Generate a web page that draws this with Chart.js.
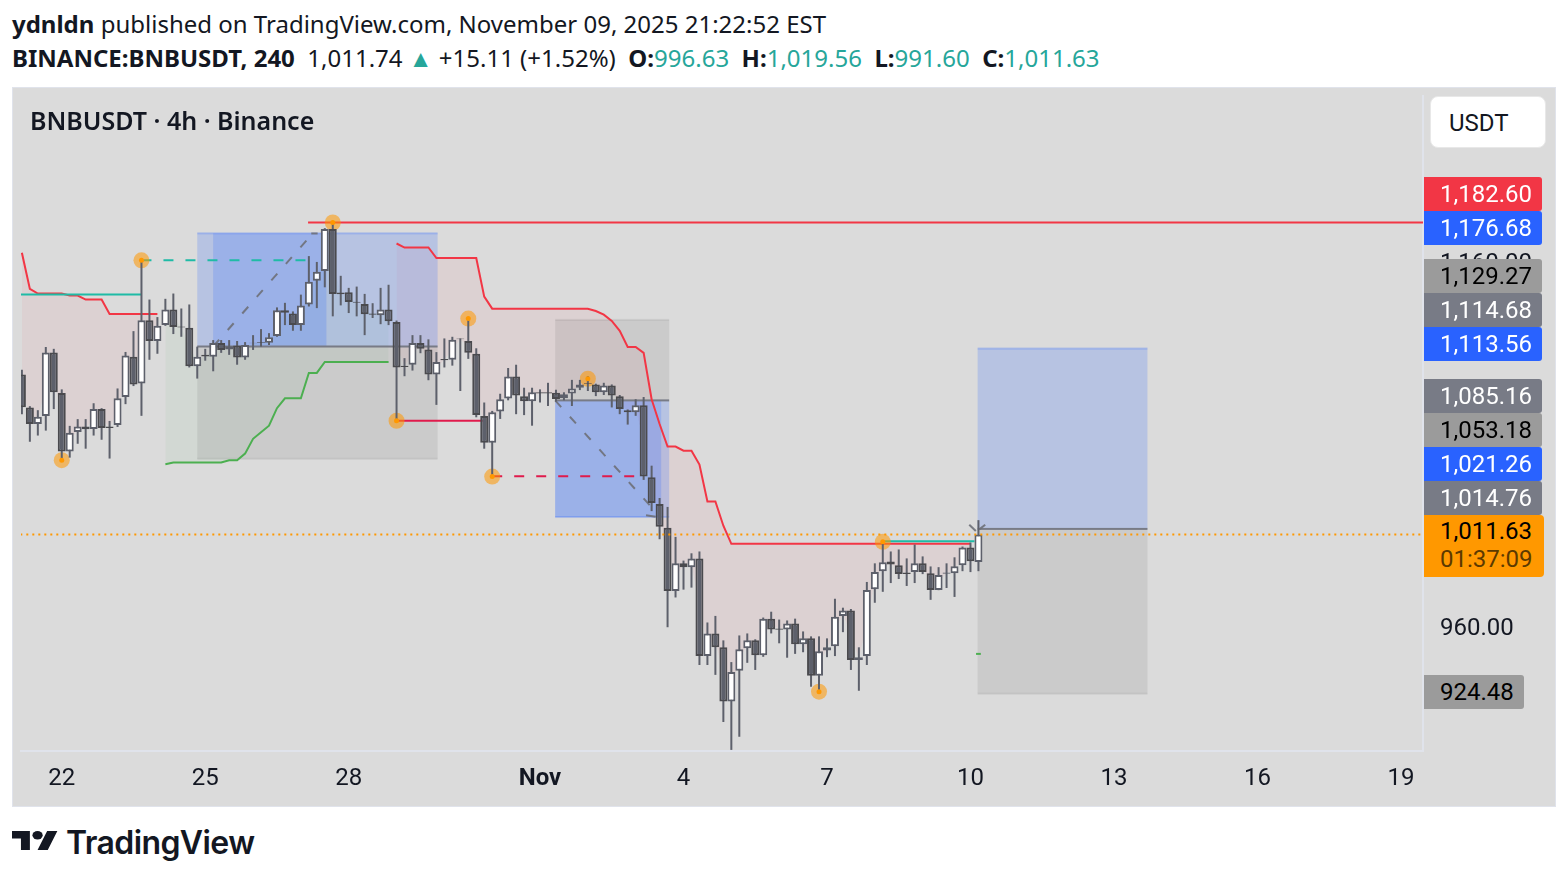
<!DOCTYPE html>
<html lang="en">
<head>
<meta charset="UTF-8">
<title>BNBUSDT 4h</title>
<script src="https://cdn.jsdelivr.net/npm/chart.js@4"></script>
<style>
    html, body { margin: 0; padding: 0; background: #fff; width: 1568px; height: 880px; overflow: hidden; }
    .head { position: absolute; left: 12px; font-family: "Noto Sans", sans-serif; font-size: 24px; color: #131722; white-space: nowrap; line-height: 34px; }
    .head b { font-weight: 700; }
    .head .up { color: #26a69a; }
    #line1 { top: 7px; }
    #line2 { top: 41px; }
    #pane { position: absolute; left: 12px; top: 87px; width: 1542px; height: 718px; border: 1px solid #e0e3eb; background: #dbdbdb; }
    #chart { position: absolute; left: 0; top: 0; }
    #title { position: absolute; left: 17px; top: 15px; font-family: "Noto Sans", sans-serif; font-weight: 600; font-size: 25px; line-height: 34px; color: #131722; }
    #unit { position: absolute; left: 1417px; top: 8px; width: 116px; height: 52px; box-sizing: border-box; background: #fff; border: 1px solid #e8e8e8; border-radius: 8px; font: 24px/52px Roboto, sans-serif; color: #131722; padding-left: 18px; }
    .tag { position: absolute; left: 1411px; width: 118px; height: 34px; border-radius: 0 3px 3px 0; font: 24px/34px Roboto, sans-serif; box-sizing: border-box; padding-left: 16px; }
    #brand { position: absolute; left: 66px; top: 823px; font-family: Inter, sans-serif; font-weight: 600; font-size: 32px; line-height: 40px; letter-spacing: -0.6px; color: #131722; }
    #logo { position: absolute; left: 12px; top: 831px; }
</style>
</head>
<body>
<div class="head" id="line1"><b>ydnldn</b> published on TradingView.com, November 09, 2025 21:22:52 EST</div>
<div class="head" id="line2"><b>BINANCE:BNBUSDT, 240</b>&nbsp; 1,011.74 <span class="up">▲</span> +15.11 (+1.52%)&nbsp; <b>O:</b><span class="up">996.63</span>&nbsp; <b>H:</b><span class="up">1,019.56</span>&nbsp; <b>L:</b><span class="up">991.60</span>&nbsp; <b>C:</b><span class="up">1,011.63</span></div>
<div id="pane">
    <canvas id="chart" width="1542" height="718"></canvas>
    <div id="title">BNBUSDT · 4h · Binance</div>
    <div id="unit">USDT</div>
</div>
<svg id="logo" width="46" height="19" viewBox="0 4 36 18" preserveAspectRatio="none"><path fill="#131722" d="M14 22H7V11H0V4h14v18zM28 22h-8l7.5-18h8L28 22z"/><circle fill="#131722" cx="20" cy="8" r="4"/></svg>
<div id="brand">TradingView</div>

<script>
    const opens = [1099.3,1081.3,1072.2,1076.6,1111.4,1089.2,1057.1,1067.9,1070.8,1069.5,1080.4,1070.8,1071.7,1087.0,1109.0,1094.4,1129.1,1117.7,1126.4,1135.0,
        1125.6,1124.9,1103.8,1110.1,1109.0,1116.6,1113.0,1115.2,1108.7,1116.8,1117.0,1116.8,1120.4,1134.5,1132.8,1126.4,1137.7,1150.7,1156.1,1179.0,
        1144.2,1144.4,1139.2,1137.9,1132.8,1131.8,1135.0,1128.1,1104.2,1104.7,1116.6,1113.0,1099.3,1107.8,1107.4,1119.1,1117.7,1110.7,1076.6,1062.0,
        1079.1,1086.2,1098.2,1087.4,1084.7,1089.6,1089.6,1089.4,1086.3,1088.9,1092.1,1094.6,1093.9,1089.6,1093.3,1087.4,1079.8,1078.7,1082.5,1043.0,
        1028.4,1015.4,980.8,995.9,993.8,998.6,945.1,957.5,950.0,920.2,937.0,949.4,953.7,945.6,965.6,960.2,959.7,962.9,951.6,954.8,
        934.3,948.2,950.5,967.1,970.0,942.9,945.1,981.7,991.6,996.9,994.9,990.9,991.1,995.9,990.5,981.3,990.2,990.5,994.9,1004.6,996.63];
    const highs = [1102.0,1082.0,1079.8,1114.4,1113.4,1091.2,1071.2,1074.9,1074.9,1083.6,1080.9,1073.9,1091.7,1111.7,1123.1,1161.9,1140.4,1130.8,1140.8,1143.7,
        1135.5,1137.7,1114.6,1113.4,1118.2,1118.2,1118.2,1117.7,1117.1,1120.9,1124.2,1122.0,1136.1,1138.6,1133.9,1143.1,1164.2,1161.0,1179.5,1182.6,
        1153.4,1146.8,1147.5,1143.5,1138.4,1146.8,1148.5,1128.9,1108.3,1120.9,1120.9,1118.6,1111.6,1119.1,1120.0,1119.1,1130.0,1113.7,1084.0,1079.4,
        1088.8,1102.9,1104.7,1092.1,1092.1,1091.2,1094.8,1091.0,1089.6,1096.4,1096.4,1098.4,1094.3,1094.8,1093.9,1088.1,1080.2,1085.8,1087.0,1049.4,
        1031.7,1026.8,1010.4,997.4,1001.4,1002.4,963.5,967.1,953.7,941.8,956.4,957.5,954.3,966.2,969.4,965.1,964.6,965.6,958.6,955.9,
        955.9,954.8,976.5,971.6,970.9,949.9,985.7,995.9,1007.7,1002.4,1003.5,998.6,1006.2,999.7,994.2,993.8,995.9,999.2,1005.1,1007.3,1019.56];
    const lows = [1077.6,1062.5,1065.9,1068.6,1080.4,1052.4,1053.8,1061.4,1058.7,1065.9,1063.6,1053.3,1070.6,1083.1,1093.0,1076.7,1107.4,1110.7,1126.0,1121.5,
        1120.0,1103.2,1097.1,1106.9,1101.1,1111.2,1110.1,1104.7,1107.4,1112.8,1114.6,1115.5,1120.0,1126.4,1123.3,1123.3,1136.6,1135.7,1147.1,1131.2,
        1137.2,1133.0,1131.2,1120.9,1130.3,1126.9,1126.4,1074.0,1098.4,1101.5,1111.0,1096.2,1082.7,1103.2,1104.2,1090.3,1107.9,1075.9,1058.7,1043.4,
        1075.0,1085.2,1077.6,1077.1,1071.3,1084.0,1082.1,1084.5,1085.2,1082.1,1090.8,1090.3,1087.5,1088.1,1081.3,1077.6,1071.9,1076.7,1041.6,1024.5,
        1009.1,960.9,977.2,981.5,982.6,940.2,940.2,934.8,909.0,893.7,900.9,941.4,937.5,944.7,957.5,952.1,944.2,946.3,947.2,928.3,
        925.6,944.5,945.1,958.2,937.5,926.1,940.2,974.3,980.3,985.1,987.3,983.5,985.1,990.0,975.9,981.2,982.4,977.5,991.6,991.1,991.60];
    const closes = [1081.4,1072.2,1076.2,1111.4,1089.6,1057.1,1067.5,1070.8,1069.4,1080.4,1070.1,1070.1,1086.3,1109.7,1093.9,1129.1,1117.7,1126.0,1135.0,1125.4,
        1125.1,1103.8,1109.0,1109.2,1116.6,1112.8,1114.8,1108.7,1115.5,1116.4,1116.6,1119.7,1134.5,1133.2,1126.4,1137.2,1150.2,1155.6,1179.0,1143.5,
        1143.3,1139.0,1138.6,1132.3,1132.1,1135.0,1128.5,1103.2,1103.5,1116.6,1113.4,1099.3,1106.2,1107.2,1118.4,1118.6,1111.2,1077.1,1062.0,1078.7,
        1085.8,1098.2,1087.9,1084.7,1089.6,1089.0,1089.0,1085.9,1088.5,1091.7,1093.9,1094.1,1089.6,1093.3,1087.9,1080.4,1078.7,1082.5,1043.4,1028.9,
        1016.0,980.8,995.9,993.8,998.6,945.1,957.5,950.0,920.2,936.4,948.9,953.7,945.6,965.6,959.7,959.5,962.9,951.6,954.8,934.3,
        947.8,949.9,966.7,970.1,942.9,944.5,981.3,991.1,996.5,995.2,990.0,990.0,995.9,991.1,981.3,989.5,990.9,994.3,1004.6,997.0,1011.63];

    // trend stop lines, first value sits on the bar named in the *Start const
    const upperAStart = 0;
    const upperA = [1166.0,1146.2,1143.7,1143.7,1143.7,1143.7,1142.6,1142.6,1140.4,1140.4,1140.4,1132.5,1132.5,1132.5,1132.5,1132.5,1132.5,1132.5];
    const lowerStart = 18;
    const lower = [1050.2,1051.1,1051.1,1051.1,1051.1,1051.1,1051.1,1051.1,1052.4,1052.4,1056.0,1064.1,1067.7,1071.3,1080.9,1086.3,1086.3,1086.3,1100.2,1100.2,1106.2,1106.2,1106.2,1106.2,1106.2,1106.2,1106.2,1106.2,1106.2];
    const upperBStart = 47;
    const upperB = [1171.1,1168.9,1168.9,1168.9,1168.9,1163.1,1163.1,1163.1,1163.1,1163.1,1163.1,1142.0,
        1135.4,1135.4,1135.4,1135.4,1135.4,1135.4,1135.4,1135.4,1135.4,1135.4,1135.4,1135.4,1135.4,
        1134.1,1132.1,1128.7,1123.3,1114.4,1114.4,1111.2,1085.8,1072.2,1059.9,1059.9,1057.6,1057.6,1050.0,1029.8,1029.8,1016.5,
        1006.6,1006.6,1006.6,1006.6,1006.6,1006.6,1006.6,1006.6,1006.6,1006.6,1006.6,1006.6,1006.6,1006.6,1006.6,1006.6,1006.6,1006.6,1006.6,1006.6,1006.6,1006.6,1006.6,1006.6,1006.6,1006.6,1006.6,1006.6,1006.6,1006.6,1006.6];
    const lastLower = 946.3;

    // position boxes
    const boxFrom = [22, 66.9, 119.9];
    const boxTo = [52.15, 81.2, 141.2];
    const boxTarget = [1176.68, 1021.26, 1113.56];
    const boxEntry = [1114.68, 1085.16, 1014.76];
    const boxStop = [1053.18, 1129.27, 924.48];
    const hitFrom = [24, 66.9];
    const hitTo = [38.2, 80.2];
    const hitBox = [0, 1];

    // horizontal levels
    const levelFrom = [35.9, -0.2, 15, 47, 59, 108];
    const levelTo = [176, 15, 35.6, 58, 76.9, 119.5];
    const levelPrice = [1182.6, 1143.1, 1161.9, 1074.0, 1043.6, 1008.0];
    const levelColor = ['#f23645', '#1fbba6', '#1fbba6', '#e01b4c', '#e01b4c', '#1fbba6'];
    const levelDashed = [false, false, true, false, true, false];
    const lastPrice = 1011.63;

    // gray arrows
    const arrowX0 = [24, 66.9, 78.3, 118.85, 120.85, 36.3];
    const arrowY0 = [1114.68, 1085.16, 1022.3, 1017.0, 1017.0, 1176.6];
    const arrowX1 = [36.5, 80.1, 79.5, 119.67, 120.1, 37.1];
    const arrowY1 = [1176.68, 1021.26, 1021.4, 1013.6, 1014.5, 1176.6];

    // pivot markers
    const pivotBars = [5, 15, 39, 47, 56, 59, 71, 100, 108];
    const pivotPrices = [1052.4, 1161.9, 1182.6, 1074.0, 1130.0, 1043.4, 1097.0, 925.6, 1007.7];

    const xTickBars = [5, 23, 41, 65, 83, 101, 119, 137, 155, 173];
    const xTickLabels = ['22', '25', '28', 'Nov', '4', '7', '10', '13', '16', '19'];
    const yTicks = [1200, 1160, 1120, 1080, 1040, 1000, 960, 920];

    const tagTexts = ['1,182.60', '1,176.68', '1,129.27', '1,114.68', '1,113.56', '1,085.16', '1,053.18', '1,021.26', '1,014.76', '924.48'];
    const tagTops = [177, 211, 259, 293, 327, 379, 413, 447, 481, 675];
    const tagKinds = ['red', 'blue', 'gray', 'slate', 'blue', 'slate', 'gray', 'blue', 'slate', 'gray'];

    const kinds = {
        red: ['#f23645', '#fff'], blue: ['#2962ff', '#fff'], gray: ['#9b9b9b', '#000'], slate: ['#787b86', '#fff']
    };
    const pane = document.getElementById('pane');
    tagTexts.forEach((t, i) => {
        const d = document.createElement('div');
        d.className = 'tag';
        d.textContent = t;
        d.style.top = (tagTops[i] - 88) + 'px';
        d.style.background = kinds[tagKinds[i]][0];
        d.style.color = kinds[tagKinds[i]][1];
        if (t === '924.48') d.style.width = '100px';
        pane.appendChild(d);
    });
    const last = document.createElement('div');
    last.className = 'tag';
    last.style.cssText = 'top:427px;height:62px;width:120px;background:#ff9800;color:#000;line-height:28px;padding-top:2px;border-radius:0 4px 4px 0';
    last.innerHTML = '1,011.63<br><span style="color:#5c3a00">01:37:09</span>';
    pane.appendChild(last);

    const mids = opens.map((o, i) => (o + closes[i]) / 2);
    const series = (start, vals) => vals.map((v, k) => ({ x: start + k, y: v }));
    const midsFor = (start, vals) => vals.map((v, k) => ({ x: start + k, y: mids[start + k] }));

    // returns a line plus the hidden mid line its fill runs to
    function trend(start, vals, color, tint) {
        return [
            { type: 'line', data: series(start, vals), borderColor: color, borderWidth: 2, pointRadius: 0, tension: 0, fill: { target: '+1' }, backgroundColor: tint, order: 8 },
            { type: 'line', data: midsFor(start, vals), borderWidth: 0, borderColor: 'transparent', pointRadius: 0, tension: 0, fill: false, order: 9 }
        ];
    }

    const levels = levelPrice.map((p, i) => ({
        type: 'line', data: [{ x: levelFrom[i], y: p }, { x: levelTo[i], y: p }],
        borderColor: levelColor[i], borderWidth: 2, borderDash: levelDashed[i] ? [10, 12] : [], pointRadius: 0, fill: false, order: 7
    }));
    const arrows = arrowX0.map((x, i) => ({
        type: 'line', data: [{ x: x, y: arrowY0[i] }, { x: arrowX1[i], y: arrowY1[i] }],
        borderColor: 'rgba(110,112,120,0.9)', borderWidth: 2, borderDash: i < 2 ? [9, 13] : [], pointRadius: 0, fill: false, order: 7
    }));

    // position boxes go under the lines and candles
    const boxPlugin = {
        id: 'boxes',
        beforeDatasetsDraw(chart) {
            const { ctx, scales: { x, y } } = chart;
            ctx.save();
            boxFrom.forEach((f, i) => {
                const l = x.getPixelForValue(f), r = x.getPixelForValue(boxTo[i]);
                const t = y.getPixelForValue(boxTarget[i]), e = y.getPixelForValue(boxEntry[i]), s = y.getPixelForValue(boxStop[i]);
                ctx.fillStyle = 'rgba(41,98,255,0.2)';
                ctx.fillRect(l, Math.min(t, e), r - l, Math.abs(e - t));
                ctx.fillStyle = 'rgba(90,90,90,0.12)';
                ctx.fillRect(l, Math.min(s, e), r - l, Math.abs(e - s));
                ctx.fillStyle = 'rgba(41,98,255,0.25)';
                ctx.fillRect(l, t - 1, r - l, 2);
                ctx.fillStyle = 'rgba(90,90,90,0.1)';
                ctx.fillRect(l, s - 1, r - l, 2);
            });
            hitFrom.forEach((f, i) => {
                const b = hitBox[i];
                const l = x.getPixelForValue(f), r = x.getPixelForValue(hitTo[i]);
                const t = y.getPixelForValue(boxTarget[b]), e = y.getPixelForValue(boxEntry[b]);
                ctx.fillStyle = 'rgba(41,98,255,0.2)';
                ctx.fillRect(l, Math.min(t, e), r - l, Math.abs(e - t));
            });
            boxFrom.forEach((f, i) => {
                const l = x.getPixelForValue(f), r = x.getPixelForValue(boxTo[i]), e = y.getPixelForValue(boxEntry[i]);
                ctx.fillStyle = '#787b86';
                ctx.fillRect(l, e - 1, r - l, 2);
            });
            ctx.restore();
        }
    };

    const bars = opens.map((o, i) => i);
    const bodyFill = opens.map((o, i) => closes[i] >= o ? '#ffffff' : '#5d606b');
    const bodyEdge = opens.map((o, i) => closes[i] >= o ? '#5d606b' : '#4a4a4e');

    new Chart(document.getElementById('chart'), {
        type: 'bar',
        data: {
            datasets: [
                ...trend(upperAStart, upperA, '#f23645', 'rgba(242,54,69,0.06)'),
                ...trend(lowerStart, lower, '#4caf50', 'rgba(76,175,80,0.06)'),
                ...trend(upperBStart, upperB, '#f23645', 'rgba(242,54,69,0.06)'),
                { type: 'line', data: [{ x: 119.7, y: lastLower }, { x: 120.3, y: lastLower }], borderColor: '#4caf50', borderWidth: 2, pointRadius: 0, fill: false, order: 8 },
                ...levels,
                { type: 'line', data: [{ x: -0.2, y: lastPrice }, { x: 176, y: lastPrice }], borderColor: '#ff9800', borderWidth: 2, borderDash: [2, 4], pointRadius: 0, fill: false, order: 1 },
                { type: 'line', showLine: false, data: pivotBars.map((b, i) => ({ x: b, y: pivotPrices[i] })), pointRadius: 8, pointBackgroundColor: 'rgba(255,152,0,0.55)', pointBorderWidth: 0, order: 6 },
                { data: bars.map(i => ({ x: i, y: [lows[i], highs[i]] })), barThickness: 2, backgroundColor: '#5d606b', borderWidth: 0, grouped: false, inflateAmount: 0, order: 4 },
                { data: bars.map(i => ({ x: i, y: [opens[i], closes[i]] })), barThickness: 8, backgroundColor: bodyFill, borderColor: bodyEdge, borderWidth: 2, borderSkipped: false, grouped: false, inflateAmount: 0, order: 3 },
                ...arrows,
                { type: 'line', showLine: false, data: pivotBars.map((b, i) => ({ x: b, y: pivotPrices[i] })), pointRadius: 2.5, pointBackgroundColor: '#ff9800', pointBorderWidth: 0, order: 2 }
            ]
        },
        options: {
            responsive: false,
            animation: false,
            events: [],
            layout: { padding: 0 },
            plugins: { legend: { display: false }, tooltip: { enabled: false }, filler: { drawTime: 'beforeDatasetsDraw' } },
            scales: {
                x: {
                    type: 'linear', min: -0.112, max: 175.77, offset: false,
                    grid: { display: false, drawTicks: false },
                    border: { display: true, color: '#e0e3eb', width: 2 },
                    afterBuildTicks(s) { s.ticks = xTickBars.map(v => ({ value: v })); },
                    afterFit(s) { s.height = 55; s.paddingLeft = 0; s.paddingRight = 0; },
                    ticks: {
                        autoSkip: false, maxRotation: 0, padding: 14, color: '#131722',
                        font: c => ({ family: 'Roboto', size: 24, weight: c.tick && c.tick.label === 'Nov' ? 'bold' : 'normal' }),
                        callback: v => xTickLabels[xTickBars.indexOf(v)]
                    }
                },
                y: {
                    type: 'linear', position: 'right', min: 893.1, max: 1251.9,
                    grid: { display: false, drawTicks: false },
                    border: { display: true, color: '#e0e3eb', width: 2 },
                    afterBuildTicks(s) { s.ticks = yTicks.map(v => ({ value: v })); },
                    afterFit(s) { s.width = 132; s.paddingTop = 0; s.paddingBottom = 0; },
                    ticks: {
                        padding: 17, color: '#131722', font: { family: 'Roboto', size: 24 },
                        callback: v => v.toLocaleString('en-US', { minimumFractionDigits: 2, maximumFractionDigits: 2 })
                    }
                }
            }
        },
        plugins: [boxPlugin]
    });
</script>
</body>
</html>
